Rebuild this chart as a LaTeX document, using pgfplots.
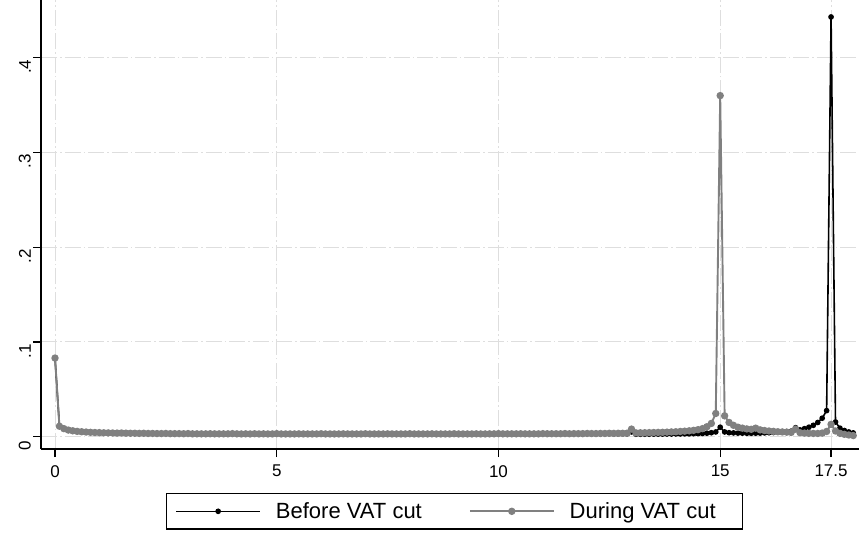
\documentclass[border=0pt]{standalone}
\usepackage{fontspec}
\setmainfont{Liberation Sans}
\usepackage{pgfplots}
\pgfplotsset{compat=1.18}
\usepackage{pgfplotstable}
\definecolor{dgray}{RGB}{128,128,128}
\definecolor{gridc}{RGB}{222,222,222}
\newcommand{\tickfont}{\fontsize{17bp}{20bp}\selectfont}

\pgfplotstableread{
x before during
0.0 0.0830 0.0830
0.1 0.0110 0.0110
0.2 0.0085 0.0085
0.3 0.0070 0.0070
0.4 0.0062 0.0062
0.5 0.0056 0.0056
0.6 0.0052 0.0052
0.7 0.0049 0.0049
0.8 0.0046 0.0046
0.9 0.0044 0.0044
1.0 0.0043 0.0043
1.1 0.0041 0.0041
1.2 0.0040 0.0040
1.3 0.0039 0.0039
1.4 0.0038 0.0038
1.5 0.0039 0.0039
1.6 0.0037 0.0037
1.7 0.0036 0.0036
1.8 0.0036 0.0036
1.9 0.0035 0.0035
2.0 0.0036 0.0036
2.1 0.0034 0.0034
2.2 0.0034 0.0034
2.3 0.0033 0.0033
2.4 0.0033 0.0033
2.5 0.0034 0.0034
2.6 0.0032 0.0032
2.7 0.0032 0.0032
2.8 0.0032 0.0032
2.9 0.0031 0.0031
3.0 0.0033 0.0033
3.1 0.0030 0.0030
3.2 0.0030 0.0030
3.3 0.0030 0.0030
3.4 0.0030 0.0030
3.5 0.0031 0.0031
3.6 0.0030 0.0030
3.7 0.0030 0.0030
3.8 0.0030 0.0030
3.9 0.0030 0.0030
4.0 0.0032 0.0032
4.1 0.0030 0.0030
4.2 0.0029 0.0029
4.3 0.0030 0.0030
4.4 0.0029 0.0029
4.5 0.0031 0.0031
4.6 0.0029 0.0029
4.7 0.0030 0.0030
4.8 0.0029 0.0029
4.9 0.0029 0.0029
5.0 0.0032 0.0032
5.1 0.0029 0.0029
5.2 0.0029 0.0029
5.3 0.0029 0.0029
5.4 0.0029 0.0029
5.5 0.0030 0.0030
5.6 0.0029 0.0029
5.7 0.0029 0.0029
5.8 0.0029 0.0029
5.9 0.0029 0.0029
6.0 0.0031 0.0031
6.1 0.0029 0.0029
6.2 0.0029 0.0029
6.3 0.0029 0.0029
6.4 0.0029 0.0029
6.5 0.0030 0.0030
6.6 0.0029 0.0029
6.7 0.0029 0.0029
6.8 0.0029 0.0029
6.9 0.0029 0.0029
7.0 0.0031 0.0031
7.1 0.0029 0.0029
7.2 0.0029 0.0029
7.3 0.0029 0.0029
7.4 0.0029 0.0029
7.5 0.0030 0.0030
7.6 0.0029 0.0029
7.7 0.0029 0.0029
7.8 0.0029 0.0029
7.9 0.0029 0.0029
8.0 0.0031 0.0031
8.1 0.0029 0.0029
8.2 0.0029 0.0029
8.3 0.0029 0.0029
8.4 0.0029 0.0029
8.5 0.0030 0.0030
8.6 0.0029 0.0029
8.7 0.0029 0.0029
8.8 0.0029 0.0029
8.9 0.0029 0.0029
9.0 0.0031 0.0031
9.1 0.0029 0.0029
9.2 0.0029 0.0029
9.3 0.0029 0.0029
9.4 0.0029 0.0029
9.5 0.0030 0.0030
9.6 0.0029 0.0029
9.7 0.0029 0.0029
9.8 0.0030 0.0030
9.9 0.0030 0.0030
10.0 0.0032 0.0032
10.1 0.0030 0.0030
10.2 0.0030 0.0030
10.3 0.0030 0.0030
10.4 0.0030 0.0030
10.5 0.0031 0.0031
10.6 0.0030 0.0030
10.7 0.0030 0.0030
10.8 0.0030 0.0030
10.9 0.0030 0.0030
11.0 0.0032 0.0032
11.1 0.0031 0.0031
11.2 0.0031 0.0031
11.3 0.0031 0.0031
11.4 0.0031 0.0031
11.5 0.0033 0.0033
11.6 0.0031 0.0031
11.7 0.0032 0.0032
11.8 0.0032 0.0032
11.9 0.0032 0.0032
12.0 0.0032 0.0034
12.1 0.0030 0.0033
12.2 0.0030 0.0033
12.3 0.0030 0.0034
12.4 0.0030 0.0034
12.5 0.0031 0.0036
12.6 0.0029 0.0035
12.7 0.0029 0.0036
12.8 0.0029 0.0036
12.9 0.0029 0.0037
13.0 0.0050 0.0080
13.1 0.0026 0.0040
13.2 0.0026 0.0041
13.3 0.0026 0.0042
13.4 0.0026 0.0043
13.5 0.0027 0.0044
13.6 0.0027 0.0045
13.7 0.0027 0.0046
13.8 0.0028 0.0048
13.9 0.0028 0.0050
14.0 0.0029 0.0052
14.1 0.0029 0.0055
14.2 0.0030 0.0058
14.3 0.0030 0.0062
14.4 0.0031 0.0067
14.5 0.0032 0.0074
14.6 0.0034 0.0085
14.7 0.0037 0.0105
14.8 0.0042 0.0140
14.9 0.0050 0.0245
15.0 0.0100 0.3600
15.1 0.0050 0.0220
15.2 0.0042 0.0150
15.3 0.0040 0.0120
15.4 0.0038 0.0100
15.5 0.0037 0.0090
15.6 0.0036 0.0082
15.7 0.0036 0.0078
15.8 0.0037 0.0090
15.9 0.0038 0.0072
16.0 0.0040 0.0065
16.1 0.0042 0.0060
16.2 0.0044 0.0056
16.3 0.0047 0.0052
16.4 0.0050 0.0050
16.5 0.0054 0.0048
16.6 0.0058 0.0045
16.7 0.0095 0.0080
16.8 0.0072 0.0042
16.9 0.0085 0.0038
17.0 0.0100 0.0035
17.1 0.0120 0.0034
17.2 0.0150 0.0034
17.3 0.0195 0.0038
17.4 0.0275 0.0055
17.5 0.4430 0.0130
17.6 0.0155 0.0060
17.7 0.0090 0.0035
17.8 0.0065 0.0025
17.9 0.0050 0.0018
18.0 0.0040 0.0012
}\data

\begin{document}
\begin{tikzpicture}
\begin{axis}[
 scale only axis, width=818bp, height=449bp,
 xmin=-0.316, xmax=18.13, ymin=-0.013, ymax=0.4609,
 axis x line*=bottom, axis y line*=left,
 axis line style={line width=1.3bp, black},
 tick align=outside, major tick length=8bp,
 tick style={line width=1.3bp, black},
 xtick={0,5,10,15,17.5}, xticklabels={{\tickfont 0},{\tickfont 5},{\tickfont 10},{\tickfont 15},{\tickfont 17.5}},
 ytick={0,0.1,0.2,0.3,0.4}, yticklabels={{\tickfont 0},{\tickfont .1},{\tickfont .2},{\tickfont .3},{\tickfont .4}},
 yticklabel style={rotate=90, anchor=south, inner sep=2bp, xshift=-9bp},
 xticklabel style={inner sep=0bp, inner ysep=8bp},
 /pgf/number format/assume math mode=true,
 grid=major, major grid style={gridc, line width=1bp, dash pattern=on 16bp off 3bp on 1.5bp off 3bp},
 legend columns=2,
 legend style={at={(0.5055,-0.098)}, anchor=north, draw=black, line width=1.2bp,
   font=\fontsize{22bp}{26bp}\selectfont, inner xsep=9bp, inner ysep=7bp,
   /tikz/every odd column/.append style={column sep=13bp},
   /tikz/every even column/.append style={column sep=45bp}},
 legend image code/.code={\draw[mark repeat=2, mark phase=2, #1] plot coordinates {(0bp,0bp) (42bp,0bp) (84bp,0bp)};},
]
\addplot[black, line width=1.6bp, mark=*, mark size=2bp] table[x=x,y=before]{\data};
\addlegendentry{Before VAT cut}
\addplot[dgray, line width=1.9bp, mark=*, mark size=2.7bp] table[x=x,y=during]{\data};
\addlegendentry{During VAT cut\hspace*{16bp}}
\end{axis}
\pgfresetboundingbox
\path[use as bounding box] (-41bp,-84bp) rectangle (819bp,449bp);
\end{tikzpicture}
\end{document}
